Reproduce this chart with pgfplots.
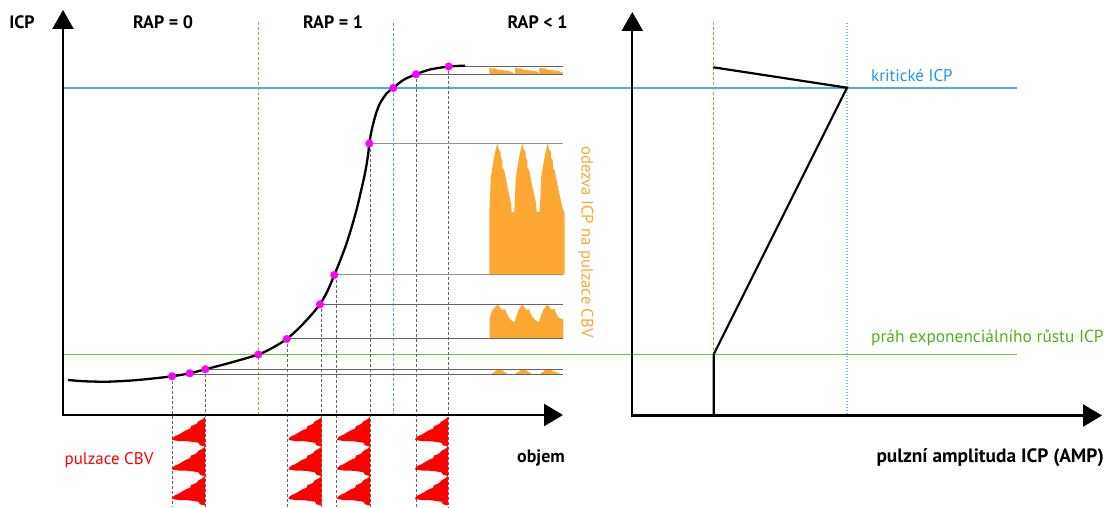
\documentclass[border=0pt]{standalone}
\usepackage{pgfplots}
\pgfplotsset{compat=1.18}
\usepackage{pgfplotstable}
\usepackage{fontspec}
\setmainfont{PT Sans}
\usetikzlibrary{arrows.meta}

\definecolor{icporange}{RGB}{255,167,51}
\definecolor{cbvred}{RGB}{255,0,0}
\definecolor{pointmag}{RGB}{255,0,255}
\definecolor{critline}{RGB}{85,165,240}
\definecolor{crittext}{RGB}{30,150,240}
\definecolor{thrline}{RGB}{115,195,70}
\definecolor{thrtext}{RGB}{85,175,35}
\definecolor{guide}{RGB}{100,100,100}

% CBV pulse outlines below the volume axis: one column per group of three pulses
\pgfplotstableread{
y     g1    g2    g3    g4
417   205   321.5 370   448
419.3 202.4 318.9 367.4 445.4
421.3 198.4 314.9 363.4 441.4
423.7 196.7 313.2 361.7 439.7
425.3 193.4 309.9 358.4 436.4
426   191.1 307.6 356.1 434.1
428.7 190.1 306.6 355.1 433.1
430.3 185.9 302.4 350.9 428.9
432.7 181.9 298.4 346.9 424.9
434.7 178.6 295.1 343.6 421.6
436   175.3 291.8 340.3 418.3
438   172.7 289.2 337.7 415.7
440   172   288.5 337   415
441   178.6 295.1 343.6 421.6
441.3 188.5 305   353.5 431.5
442.7 198.4 314.9 363.4 441.4
445.3 200   316.5 365   443
446.5 205   321.5 370   448
448.8 202.4 318.9 367.4 445.4
450.8 198.4 314.9 363.4 441.4
453.2 196.7 313.2 361.7 439.7
454.8 193.4 309.9 358.4 436.4
455.5 191.1 307.6 356.1 434.1
458.2 190.1 306.6 355.1 433.1
459.8 185.9 302.4 350.9 428.9
462.2 181.9 298.4 346.9 424.9
464.2 178.6 295.1 343.6 421.6
465.5 175.3 291.8 340.3 418.3
467.5 172.7 289.2 337.7 415.7
469.5 172   288.5 337   415
470.5 178.6 295.1 343.6 421.6
470.8 188.5 305   353.5 431.5
472.2 198.4 314.9 363.4 441.4
474.8 200   316.5 365   443
476   205   321.5 370   448
478.3 202.4 318.9 367.4 445.4
480.3 198.4 314.9 363.4 441.4
482.7 196.7 313.2 361.7 439.7
484.3 193.4 309.9 358.4 436.4
485   191.1 307.6 356.1 434.1
487.7 190.1 306.6 355.1 433.1
489.3 185.9 302.4 350.9 428.9
491.7 181.9 298.4 346.9 424.9
493.7 178.6 295.1 343.6 421.6
495   175.3 291.8 340.3 418.3
497   172.7 289.2 337.7 415.7
499   172   288.5 337   415
500   178.6 295.1 343.6 421.6
500.3 188.5 305   353.5 431.5
501.7 198.4 314.9 363.4 441.4
504.3 200   316.5 365   443
505.5 205   321.5 370   448
}\pulses

\begin{document}
\begin{tikzpicture}
\begin{axis}[
  x=1bp, y=1bp,
  xmin=0, xmax=1107, ymin=0, ymax=507,
  y dir=reverse,
  hide axis, clip=false,
  every axis plot/.append style={forget plot},
]
% frame of the drawing area
\addplot[draw=none] coordinates {(0,0) (1107,507)};

% critical ICP and threshold of exponential growth
\addplot[critline, line width=1.2bp] coordinates {(64,88) (1017,88)};
\addplot[thrline, line width=1.2bp] coordinates {(64,354.3) (1017,354.3)};

% region borders
\addplot[thrline, line width=0.9bp, dash pattern=on 3bp off 2bp] coordinates {(258.3,22) (258.3,415)};
\addplot[critline, line width=0.9bp, dash pattern=on 3bp off 2bp] coordinates {(393.3,23) (393.3,415)};
\addplot[thrline, line width=0.9bp, dash pattern=on 3bp off 2bp] coordinates {(713.3,22) (713.3,415)};
\addplot[critline!80, line width=1.3bp, dash pattern=on 1.5bp off 1.5bp] coordinates {(847,23) (847,415)};

% drop lines from the working points
\addplot[guide, line width=0.8bp, dash pattern=on 3bp off 2bp] coordinates {(172,376) (172,507)};
\addplot[guide, line width=0.8bp, dash pattern=on 3bp off 2bp] coordinates {(205.3,369) (205.3,507)};
\addplot[guide, line width=0.8bp, dash pattern=on 3bp off 2bp] coordinates {(287,339) (287,507)};
\addplot[guide, line width=0.8bp, dash pattern=on 3bp off 2bp] coordinates {(321.7,304) (321.7,507)};
\addplot[guide, line width=0.8bp, dash pattern=on 3bp off 2bp] coordinates {(336,275) (336,507)};
\addplot[guide, line width=0.8bp, dash pattern=on 3bp off 2bp] coordinates {(370,144) (370,507)};
\addplot[guide, line width=0.8bp, dash pattern=on 3bp off 2bp] coordinates {(416,74) (416,507)};
\addplot[guide, line width=0.8bp, dash pattern=on 3bp off 2bp] coordinates {(448.5,66.5) (448.5,507)};

% ICP responses
\addplot[fill=icporange, draw=none] coordinates {
(489.3,274.5) (489.3,212) (490.8,178) (492.3,168) (494,158) (495.6,150) (497.3,143.5)
(499,150) (500.6,152) (500.8,158) (502.3,160) (502.5,168) (504.1,170) (505.7,178)
(507.3,186) (509,194) (510.6,201) (511.7,212) (514.3,212)
(515.8,178) (517.3,168) (519,158) (520.6,150) (522.3,143.5)
(524,150) (525.6,152) (525.8,158) (527.3,160) (527.5,168) (529.1,170) (530.7,178)
(532.3,186) (534,194) (535.6,201) (536.7,212) (539.7,212)
(541.2,178) (542.7,168) (544.4,158) (546,150) (547.7,143.5)
(549.4,150) (551,152) (551.2,158) (552.7,160) (552.9,168) (554.5,170) (556.1,178)
(557.7,186) (559.4,194) (561,201) (562.5,208) (564.5,213) (564.5,274.5)};
\addplot[fill=icporange, draw=none] coordinates {
(489.7,338.3) (489.7,317.7) (491.7,311.7) (494.3,307.7) (497.7,304.3)
(500,307.7) (502.3,310) (504.3,309) (505.7,311) (507.7,315.7) (510,319) (512.3,321) (514.3,322.3)
(516.7,315.7) (518.3,311) (520,307.7) (522.3,304.3)
(525,308.3) (526.7,310) (528.3,309) (530,311.7) (531.7,315.7) (534.3,319) (536.7,321) (539,322.3)
(541,315.7) (543.3,310) (545.7,306.7) (547.3,304.3)
(550,307.7) (551.7,310) (554,308.3) (555.7,311.7) (557.7,316.7) (560,318.3) (562.3,319) (563.3,320)
(563.3,338.3)};
\addplot[fill=icporange, draw=none] coordinates {
(490,374.3) (493,373) (496,370.5) (499,368.8) (502,370) (505,372.5) (508,374.3)
(514,374.3) (517,373) (520,370.5) (523,368.8) (526,370) (529,372.5) (532,374.3)
(538.5,374.3) (541.5,373) (544.5,370.5) (547.5,368.8) (551,370) (555,372) (559,373.5) (563,374.3)};
\addplot[fill=icporange, draw=none] coordinates {
(489.3,74.3) (489.3,68) (490.6,67.7) (492,69) (494,68.3) (496.6,69) (498.3,70) (501.6,69.7)
(505,70.7) (508.3,71) (510.6,71.7) (512.3,72.3) (514.3,73.5) (515,74.3)
(515,68) (516.3,67.3) (517.7,68.5) (519.7,68.3) (522.3,69) (524,70) (527.3,69.7)
(530.7,70.7) (534,71) (536.3,71.7) (538,72.3) (539.3,73.8)
(539.3,68) (540.6,67.7) (542,68.5) (544,68.3) (546.6,69) (548.3,70) (551.6,69.7)
(555,70.7) (558.3,71) (560.6,71.7) (562.7,72.5) (562.7,74.3)};

% response envelopes
\addplot[guide, line width=1bp] coordinates {(172,374.5) (563,374.5)};
\addplot[guide, line width=1bp] coordinates {(205.3,369.2) (563,369.2)};
\addplot[guide, line width=1bp] coordinates {(286.7,339) (563,339)};
\addplot[guide, line width=1bp] coordinates {(320,304.3) (563,304.3)};
\addplot[guide!70, line width=1bp] coordinates {(334.3,275) (563,275)};
\addplot[guide!70, line width=1bp] coordinates {(369.3,143.5) (563,143.5)};
\addplot[guide, line width=1bp] coordinates {(416,74.3) (563,74.3)};
\addplot[guide, line width=1bp] coordinates {(448.7,66.5) (563,66.5)};

% pressure-volume curve
\addplot[black, line width=2.3bp, smooth, tension=0.5] coordinates {
(68,380) (85,381.3) (107,381.7) (130,380.6) (150,378.8) (172,376.3) (189.7,373.3)
(205.3,369.3) (230,362.8) (258.3,354.5) (273,347.5) (286.7,339) (298,329) (309,317.5)
(320,304.3) (327.5,291) (334.3,275) (340,261) (346,245) (352,226) (357,208) (361,191)
(364,178) (366.5,165) (368.3,153) (369.3,143.5) (371.3,132) (373.3,123.3) (376.5,112)
(380,103.3) (386.7,93.3) (393.3,88) (403.3,80) (416,74.3) (430,69.5) (448.7,66.5) (465,65.7)};

% working points
\addplot[only marks, mark=*, mark size=3.8bp, mark options={fill=pointmag, draw=pointmag}] coordinates {
(172,376.3) (189.7,373.3) (205.3,369.3) (258.3,354.5) (286.7,339) (320,304.3)
(334.3,275) (369.3,143.5) (393.3,88) (416,74.3) (448.7,66.5)};

% CBV pulsations
\addplot[fill=cbvred, draw=none] table[x=g1, y=y] {\pulses};
\addplot[fill=cbvred, draw=none] table[x=g2, y=y] {\pulses};
\addplot[fill=cbvred, draw=none] table[x=g3, y=y] {\pulses};
\addplot[fill=cbvred, draw=none] table[x=g4, y=y] {\pulses};

% AMP against ICP
\addplot[black, line width=2.2bp, line join=miter] coordinates {
(713.3,67.3) (847,87.7) (713.7,354.3) (713.7,415)};

% axes
\addplot[black, line width=2.3bp, -{Triangle[length=19bp,width=21bp]}] coordinates {(63,416) (63,10)};
\addplot[black, line width=2.3bp, -{Triangle[length=19bp,width=22bp]}] coordinates {(61.9,415) (563,415)};
\addplot[black, line width=2.3bp, -{Triangle[length=19bp,width=21bp]}] coordinates {(632.3,416) (632.3,12)};
\addplot[black, line width=2.3bp, -{Triangle[length=19bp,width=22bp]}] coordinates {(631.2,415.5) (1102,415.5)};

% labels
\node[font=\fontsize{18}{21}\selectfont\bfseries] at (axis cs:22,22) {ICP};
\node[font=\fontsize{18}{21}\selectfont\bfseries] at (axis cs:163,22) {RAP = 0};
\node[font=\fontsize{18}{21}\selectfont\bfseries] at (axis cs:333,22) {RAP = 1};
\node[font=\fontsize{18}{21}\selectfont\bfseries] at (axis cs:537.5,22) {RAP < 1};
\node[font=\fontsize{18}{21}\selectfont\bfseries] at (axis cs:541,458) {objem};
\node[font=\fontsize{17}{20}\selectfont, text=cbvred] at (axis cs:109,460) {pulzace CBV};
\node[font=\fontsize{16.7}{20}\selectfont, text=icporange, rotate=-90] at (axis cs:586,242) {odezva ICP na pulzace CBV};
\node[font=\fontsize{17}{20}\selectfont, text=crittext, anchor=west, inner sep=0pt] at (axis cs:871,76) {kritické ICP};
\node[font=\fontsize{17.4}{20}\selectfont, text=thrtext, anchor=west, inner sep=0pt] at (axis cs:871,337.5) {práh exponenciálního růstu ICP};
\node[font=\fontsize{19.4}{22}\selectfont\bfseries, anchor=east, inner sep=0pt] at (axis cs:1104,458) {pulzní amplituda ICP (AMP)};
\end{axis}
\end{tikzpicture}
\end{document}
